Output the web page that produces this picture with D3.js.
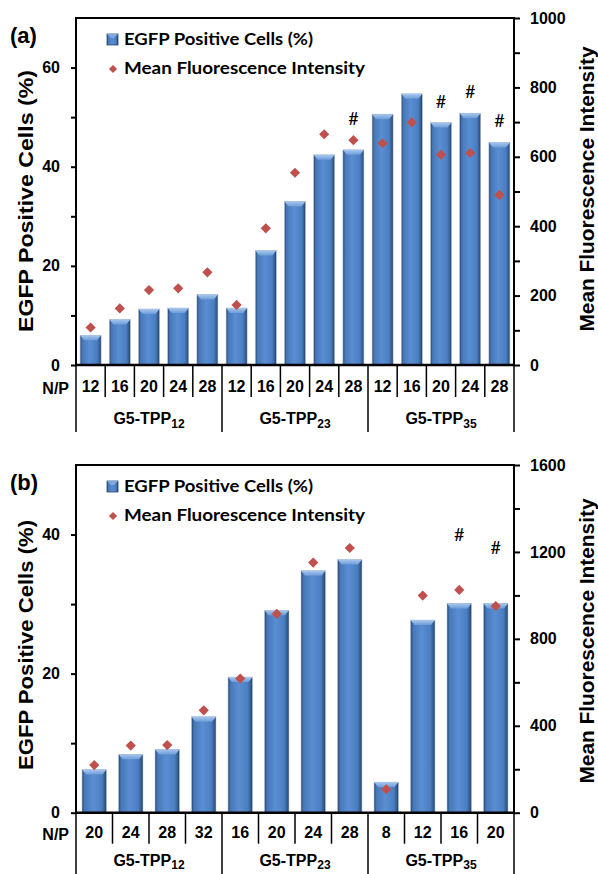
<!DOCTYPE html>
<html>
<head>
<meta charset="utf-8">
<script src="https://cdn.jsdelivr.net/npm/d3@7"></script>
<style>
  body { margin: 0; background: #fff; }
  text { font-family: "Liberation Sans", Arial, sans-serif; font-weight: bold; }
</style>
</head>
<body>
<script>
// panel (a)
const npA = ["12","16","20","24","28","12","16","20","24","28","12","16","20","24","28"];
const groupsA = ["12","23","35"];
const groupSizeA = [5,5,5];
const egfpA = [6.0, 9.2, 11.3, 11.5, 14.2, 11.5, 23.1, 33.0, 42.4, 43.4, 50.6, 54.7, 48.9, 50.8, 44.9];
const mfiA = [108, 163, 216, 221, 267, 173, 394, 554, 665, 648, 639, 699, 606, 611, 490];
const hashA = [9, 12, 13, 14];
const leftTicksA = [0, 20, 40, 60];
const leftMinorA = [10, 30, 50];
const rightTicksA = [0, 200, 400, 600, 800, 1000];
const rightMinorA = [100, 300, 500, 700, 900];

// panel (b)
const npB = ["20","24","28","32","16","20","24","28","8","12","16","20"];
const groupsB = ["12","23","35"];
const groupSizeB = [4,4,4];
const egfpB = [6.2, 8.4, 9.1, 13.8, 19.5, 29.1, 34.8, 36.4, 4.4, 27.7, 30.1, 30.1];
const mfiB = [219, 309, 311, 471, 617, 915, 1151, 1218, 108, 999, 1025, 951];
const hashB = [10, 11];
const leftTicksB = [0, 20, 40];
const leftMinorB = [10, 30];
const rightTicksB = [0, 400, 800, 1200, 1600];
const rightMinorB = [200, 600, 1000, 1400];

const legendLabels = ["EGFP Positive Cells (%)", "Mean Fluorescence Intensity"];

const svg = d3.select("body").append("svg")
  .attr("width", 598)
  .attr("height", 874);

const defs = svg.append("defs");
const barGrad = defs.append("linearGradient").attr("id", "barGrad")
  .attr("x1", "0%").attr("x2", "100%").attr("y1", "0%").attr("y2", "0%");
[["0%","#24426b"],["10%","#4677b8"],["45%","#5a8ed2"],["80%","#4b7fc2"],["93%","#335d92"],["100%","#1f3656"]]
  .forEach(s => barGrad.append("stop").attr("offset", s[0]).attr("stop-color", s[1]));
const bevelGrad = defs.append("linearGradient").attr("id", "bevelGrad")
  .attr("x1", "0%").attr("x2", "0%").attr("y1", "0%").attr("y2", "100%");
[["0%","#a9c8ee"],["100%","#6d9cd8"]]
  .forEach(s => bevelGrad.append("stop").attr("offset", s[0]).attr("stop-color", s[1]));

const fmt = d3.format("d");

function drawPanel(p) {
  const L = 76, R = 514;
  const g = svg.append("g");

  const x = d3.scaleBand().domain(d3.range(p.np.length)).range([L, R])
    .paddingInner(p.pad).paddingOuter(p.pad / 2);
  const yL = d3.scaleLinear().domain(p.leftDomain).range([p.bottom, p.top]);
  const yR = d3.scaleLinear().domain(p.rightDomain).range([p.bottom, p.top]);
  const bw = x.bandwidth();

  // bars
  g.selectAll("rect.bar").data(p.egfp).join("rect")
    .attr("class", "bar")
    .attr("x", (d, i) => x(i))
    .attr("y", d => yL(d))
    .attr("width", bw)
    .attr("height", d => p.bottom - yL(d))
    .attr("fill", "url(#barGrad)")
    .attr("stroke", "#b9c4d2")
    .attr("stroke-width", 0.6);

  g.selectAll("path.bevel").data(p.egfp).join("path")
    .attr("class", "bevel")
    .attr("d", (d, i) => {
      const x0 = x(i), x1 = x(i) + bw, t = yL(d);
      return `M${x0},${t}L${x1},${t}L${x1 - 4},${t + 5}L${x0 + 4},${t + 5}Z`;
    })
    .attr("fill", "url(#bevelGrad)");

  // diamonds
  g.selectAll("path.mfi").data(p.mfi).join("path")
    .attr("class", "mfi")
    .attr("d", d3.symbol(d3.symbolSquare, 52))
    .attr("transform", (d, i) => `translate(${x(i) + bw / 2},${yR(d)}) rotate(45)`)
    .attr("fill", "#c0504d");

  // # marks
  g.selectAll("text.hash").data(p.hash).join("text")
    .attr("class", "hash")
    .attr("x", i => x(i) + bw / 2)
    .attr("y", i => Math.min(yL(p.egfp[i]), yR(p.mfi[i])) - p.hashGap + 6)
    .attr("text-anchor", "middle")
    .style("font-family", "Lato, sans-serif")
    .style("font-weight", "normal")
    .style("font-size", "18px")
    .text("#");

  // left axis
  g.append("g").attr("transform", `translate(${L},0)`)
    .call(d3.axisLeft(yL).tickValues(p.leftTicks).tickSize(5).tickPadding(11).tickFormat(fmt));
  g.append("g").attr("transform", `translate(${L},0)`)
    .call(d3.axisLeft(yL).tickValues(p.leftMinor).tickSize(5).tickFormat(""));
  // right axis
  g.append("g").attr("transform", `translate(${R},0)`)
    .call(d3.axisRight(yR).tickValues(p.rightTicks).tickSize(6).tickPadding(10).tickFormat(fmt));
  g.append("g").attr("transform", `translate(${R},0)`)
    .call(d3.axisRight(yR).tickValues(p.rightMinor).tickSize(6).tickFormat(""));
  g.selectAll(".domain").remove();
  g.selectAll(".tick line").attr("stroke", "#000").attr("stroke-width", 2);

  // frame
  g.append("path")
    .attr("d", `M${L},${p.bottom}V${p.top}H${R}V${p.bottom}`)
    .attr("fill", "none").attr("stroke", "#000").attr("stroke-width", 2);

  // x axis + N/P table
  const step = x.step();
  g.append("g").attr("transform", `translate(0,${p.bottom})`)
    .call(d3.axisBottom(x).tickSize(0).tickPadding(p.labelPad).tickFormat(i => p.np[i]))
    .call(a => a.select(".domain").remove());
  g.selectAll(".tick text")
    .attr("font-family", "Liberation Sans, Arial, sans-serif")
    .attr("font-weight", "bold")
    .style("font-family", "'Liberation Sans', Arial, sans-serif")
    .style("font-weight", "bold")
    .style("font-size", "16px");
  g.append("line")
    .attr("x1", L - 1).attr("x2", R + 1).attr("y1", p.bottom).attr("y2", p.bottom)
    .attr("stroke", "#000").attr("stroke-width", 2.5);

  const groupEdges = [0];
  p.groupSize.forEach(n => groupEdges.push(groupEdges[groupEdges.length - 1] + n));
  d3.range(1, p.np.length).filter(i => !groupEdges.includes(i)).forEach(i => {
    g.append("line")
      .attr("x1", L + i * step).attr("x2", L + i * step)
      .attr("y1", p.bottom).attr("y2", p.bottom + p.tickDrop)
      .attr("stroke", "#000").attr("stroke-width", 1.5);
  });
  groupEdges.forEach(i => {
    g.append("line")
      .attr("x1", L + i * step).attr("x2", L + i * step)
      .attr("y1", p.bottom).attr("y2", p.tableBottom)
      .attr("stroke", "#000").attr("stroke-width", 1.5);
  });

  g.append("text")
    .attr("x", 69).attr("y", p.bottom + p.labelPad + 13)
    .attr("text-anchor", "end")
    .style("font-size", "16px")
    .text("N/P");

  p.groups.forEach((name, k) => {
    const cx = L + (groupEdges[k] + groupEdges[k + 1]) / 2 * step;
    const t = g.append("text")
      .attr("x", cx).attr("y", p.groupBase)
      .attr("text-anchor", "middle")
      .style("font-size", "16px");
    t.append("tspan").text("G5-TPP");
    t.append("tspan").attr("dy", p.subDy).style("font-size", "12px").text(name);
  });

  // panel label
  g.append("text")
    .attr("x", 10).attr("y", p.top + 25)
    .style("font-size", "22px")
    .text(p.label);

  // legend
  const lg = g.append("g");
  lg.append("rect")
    .attr("x", 107).attr("y", p.top + 16).attr("width", 11).attr("height", 11)
    .attr("fill", "url(#barGrad)").attr("stroke", "#2b4a74").attr("stroke-width", 0.8);
  lg.append("path")
    .attr("d", `M107,${p.top + 16}H118L114,${p.top + 20}H111Z`)
    .attr("fill", "#7ea8de");
  lg.append("path")
    .attr("d", d3.symbol(d3.symbolSquare, 34))
    .attr("transform", `translate(113,${p.top + 51}) rotate(45)`)
    .attr("fill", "#c0504d");
  lg.selectAll("text").data(legendLabels).join("text")
    .attr("x", 124)
    .attr("y", (d, i) => p.top + 27 + i * 29)
    .attr("textLength", (d, i) => [189, 241][i])
    .attr("lengthAdjust", "spacingAndGlyphs")
    .style("font-family", "Lato, sans-serif")
    .style("font-size", "17px")
    .text(d => d);

  // axis titles
  g.append("text")
    .attr("transform", `translate(33,${p.leftTitleY}) rotate(-90)`)
    .attr("text-anchor", "middle")
    .attr("textLength", p.leftTitleLen).attr("lengthAdjust", "spacingAndGlyphs")
    .style("font-size", "20px")
    .text("EGFP Positive Cells (%)");
  g.append("text")
    .attr("transform", `translate(594,${p.rightTitleY}) rotate(-90)`)
    .attr("text-anchor", "middle")
    .attr("textLength", 285).attr("lengthAdjust", "spacingAndGlyphs")
    .style("font-size", "20px")
    .text("Mean Fluorescence Intensity");
}

drawPanel({
  label: "(a)", top: 18, bottom: 365, pad: 0.28,
  np: npA, groups: groupsA, groupSize: groupSizeA,
  egfp: egfpA, mfi: mfiA, hash: hashA, hashGap: 21,
  leftDomain: [0, 70], rightDomain: [0, 1000],
  leftTicks: leftTicksA, leftMinor: leftMinorA,
  rightTicks: rightTicksA, rightMinor: rightMinorA,
  labelPad: 16, tickDrop: 32, tableBottom: 432, groupBase: 424, subDy: 4,
  leftTitleY: 201, leftTitleLen: 262, rightTitleY: 189
});

drawPanel({
  label: "(b)", top: 465, bottom: 812.7, pad: 0.33,
  np: npB, groups: groupsB, groupSize: groupSizeB,
  egfp: egfpB, mfi: mfiB, hash: hashB, hashGap: 55,
  leftDomain: [0, 50], rightDomain: [0, 1600],
  leftTicks: leftTicksB, leftMinor: leftMinorB,
  rightTicks: rightTicksB, rightMinor: rightMinorB,
  labelPad: 14, tickDrop: 31, tableBottom: 874, groupBase: 866, subDy: 3,
  leftTitleY: 645, leftTitleLen: 250, rightTitleY: 641
});
</script>
</body>
</html>
